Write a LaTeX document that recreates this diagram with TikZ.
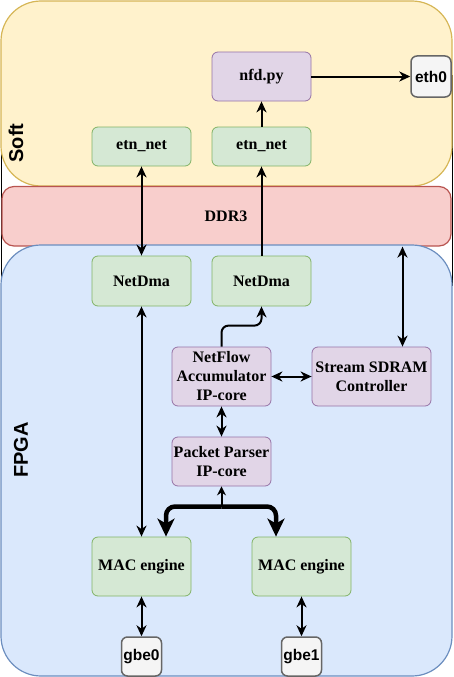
\documentclass[tikz,border=0pt]{standalone}
\usepackage{fontspec}
\setmainfont{Liberation Serif}
\newfontfamily\sansb{Liberation Sans}
\usetikzlibrary{arrows.meta,calc}
\definecolor{yfill}{HTML}{FFF2CC}\definecolor{ystroke}{HTML}{D6B656}
\definecolor{rfill}{HTML}{F8CECC}\definecolor{rstroke}{HTML}{B85450}
\definecolor{bfill}{HTML}{DAE8FC}\definecolor{bstroke}{HTML}{6C8EBF}
\definecolor{gfill}{HTML}{D5E8D4}\definecolor{gstroke}{HTML}{82B366}
\definecolor{pfill}{HTML}{E1D5E7}\definecolor{pstroke}{HTML}{9673A6}
\definecolor{kfill}{HTML}{F5F5F5}\definecolor{kstroke}{HTML}{666666}
\tikzset{
  box/.style={draw, rectangle, rounded corners=6pt, line width=0.8pt, inner sep=0pt, align=center,
    font=\fontsize{16}{19}\selectfont\bfseries},
  gbox/.style={box, fill=gfill, draw=gstroke},
  pbox/.style={box, fill=pfill, draw=pstroke},
  kbox/.style={box, fill=kfill, draw=kstroke, line width=1.5pt, font=\sansb\fontsize{15.5}{18}\selectfont\bfseries},
  container/.style={draw, rectangle, line width=1.2pt, inner sep=0pt},
  tip/.tip={Stealth[length=11pt,width=10pt,inset=3.5pt]},
  conn/.style={line width=2pt, arrows={tip-tip}},
  oneway/.style={line width=2pt, arrows={-tip}},
  bus/.style={line width=4.5pt, -{Stealth[length=18pt,width=17pt,inset=5pt]}},
  lbl/.style={font=\sansb\fontsize{20}{24}\selectfont\bfseries, rotate=90, inner sep=0pt},
}
\begin{document}
\begin{tikzpicture}[x=1pt,y=-1pt]
\useasboundingbox (0,0) rectangle (453,677);
% outer black frame
\draw[line width=1pt, black] (1,75) rectangle (452,285);
% containers
\node[container, fill=yfill, draw=ystroke, rounded corners=40pt, minimum width=451pt, minimum height=185pt] (soft) at (226.5,93.5) {};
\node[container, fill=rfill, draw=rstroke, rounded corners=12pt, minimum width=449pt, minimum height=59.5pt] (ddr) at (226.5,216.25) {};
\node[container, fill=bfill, draw=bstroke, rounded corners=40pt, minimum width=451pt, minimum height=431pt] (fpga) at (226.5,460.5) {};
\node[lbl] (softlbl) at (16,143) {Soft};
\node[lbl] (fpgalbl) at (21,450) {FPGA};
\node[font=\fontsize{16}{19}\selectfont\bfseries] (ddrlbl) at (226,216) {DDR3};
% boxes
\node[pbox, minimum width=99pt, minimum height=49pt] (nfd) at (261.5,76.5) {nfd.py};
\node[kbox, minimum width=40pt, minimum height=41pt] (eth0) at (431,76.5) {eth0};
\node[gbox, minimum width=99pt, minimum height=39pt] (etnL) at (141.5,146.5) {etn\_net};
\node[gbox, minimum width=99pt, minimum height=39pt] (etnR) at (261.5,146.5) {etn\_net};
\node[gbox, minimum width=99pt, minimum height=50pt] (dmaL) at (141.5,281) {NetDma};
\node[gbox, minimum width=99pt, minimum height=50pt] (dmaR) at (261.5,281) {NetDma};
\node[pbox, minimum width=99pt, minimum height=59pt] (nf) at (221.5,376.5) {NetFlow\\Accumulator\\IP-core};
\node[pbox, minimum width=119pt, minimum height=59pt] (sd) at (371.5,376.5) {Stream SDRAM\\Controller};
\node[pbox, minimum width=99pt, minimum height=49pt] (pp) at (221.5,461.5) {Packet Parser\\IP-core};
\node[gbox, minimum width=99pt, minimum height=59pt] (macL) at (141.5,566.5) {MAC engine};
\node[gbox, minimum width=99pt, minimum height=59pt] (macR) at (301.5,566.5) {MAC engine};
\node[kbox, minimum width=40pt, minimum height=39pt] (gbe0) at (141.5,656.5) {gbe0};
\node[kbox, minimum width=40pt, minimum height=39pt] (gbe1) at (301.5,656.5) {gbe1};
% connectors
\draw[conn] (etnL.south) -- (dmaL.north);
\draw[oneway] (dmaR.north) -- (etnR.south);
\draw[oneway] (etnR.north) -- (nfd.south);
\draw[oneway] (nfd.east) -- (eth0.west);
\draw[conn] (dmaL.south) -- (macL.north);
\draw[oneway, rounded corners=7pt] (nf.north) -- ++(0,-21) -| (dmaR.south);
\draw[conn] (nf.east) -- (sd.west);
\draw[conn] (nf.south) -- (pp.north);
\coordinate (sdtop) at ([xshift=31pt]sd.north);
\draw[conn] (sdtop |- ddr.south) -- (sdtop);
\coordinate (bus) at (221.5,506.5);
\draw[bus, rounded corners=9pt] (bus) -| ([xshift=24.5pt]macL.north);
\draw[bus, rounded corners=9pt] (bus) -| ([xshift=-25.5pt]macR.north);
\draw[line width=2pt, -{Stealth[length=9pt,width=9pt,inset=3pt]}] (bus) -- (pp.south);
\draw[conn] (macL.south) -- (gbe0.north);
\draw[conn] (macR.south) -- (gbe1.north);
\end{tikzpicture}
\end{document}
